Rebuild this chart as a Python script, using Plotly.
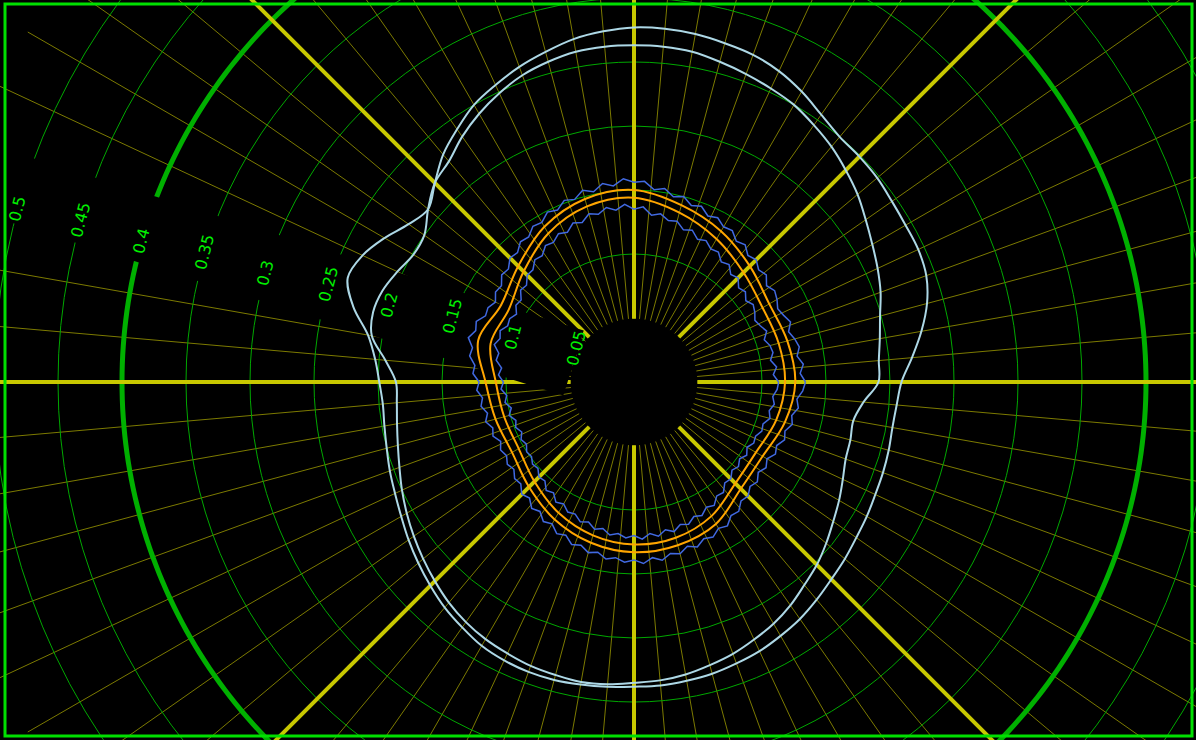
import plotly.graph_objects as go

# ---------------------------------------------------------------- data
# Angles in degrees, counter-clockwise from east.
theta_15 = list(range(0, 360, 15))
theta_5 = list(range(0, 360, 5))
theta_3 = list(range(0, 360, 3))

# light-blue envelopes, one sample every 5 degrees
env_outer = [0.209, 0.218, 0.228, 0.237, 0.243, 0.245, 0.245, 0.246, 0.248, 0.249, 0.250, 0.255,
             0.262, 0.268, 0.272, 0.274, 0.276, 0.277, 0.277, 0.275, 0.272, 0.267, 0.262, 0.256,
             0.250, 0.241, 0.232, 0.220, 0.210, 0.215, 0.225, 0.234, 0.238, 0.227, 0.211, 0.203,
             0.199, 0.197, 0.198, 0.200, 0.203, 0.206, 0.210, 0.215, 0.220, 0.225, 0.230, 0.234,
             0.238, 0.240, 0.241, 0.241, 0.240, 0.239, 0.238, 0.238, 0.237, 0.236, 0.234, 0.232,
             0.229, 0.226, 0.222, 0.218, 0.215, 0.212, 0.210, 0.208, 0.207, 0.206, 0.205, 0.206]
env_inner = [0.191, 0.192, 0.195, 0.199, 0.205, 0.210, 0.215, 0.221, 0.228, 0.234, 0.240, 0.245,
             0.250, 0.253, 0.256, 0.259, 0.262, 0.263, 0.263, 0.263, 0.262, 0.259, 0.255, 0.249,
             0.242, 0.234, 0.225, 0.220, 0.210, 0.200, 0.199, 0.204, 0.209, 0.211, 0.208, 0.195,
             0.186, 0.186, 0.188, 0.191, 0.195, 0.200, 0.205, 0.210, 0.215, 0.220, 0.225, 0.229,
             0.232, 0.234, 0.236, 0.237, 0.238, 0.237, 0.235, 0.234, 0.232, 0.229, 0.226, 0.222,
             0.218, 0.213, 0.207, 0.202, 0.196, 0.190, 0.185, 0.180, 0.176, 0.175, 0.174, 0.180]

# smoothed (orange) traces, one sample every 15 degrees
smooth_outer = [0.126, 0.124, 0.122, 0.128, 0.136, 0.143, 0.150, 0.148, 0.140, 0.128, 0.120, 0.126,
                0.116, 0.112, 0.110, 0.116, 0.124, 0.130, 0.133, 0.132, 0.128, 0.118, 0.116, 0.122]
smooth_inner = [0.118, 0.117, 0.116, 0.121, 0.129, 0.137, 0.144, 0.142, 0.134, 0.122, 0.113, 0.116,
                0.108, 0.105, 0.104, 0.110, 0.118, 0.124, 0.127, 0.126, 0.121, 0.112, 0.110, 0.115]

# raw (blue) traces, one sample every 3 degrees
raw_outer = [0.134, 0.130, 0.133, 0.129, 0.132, 0.130, 0.127, 0.131, 0.128, 0.126,
             0.129, 0.131, 0.128, 0.133, 0.131, 0.135, 0.133, 0.138, 0.136, 0.141,
             0.140, 0.144, 0.142, 0.147, 0.145, 0.150, 0.148, 0.153, 0.151, 0.157,
             0.156, 0.159, 0.154, 0.157, 0.152, 0.155, 0.150, 0.152, 0.147, 0.149,
             0.144, 0.145, 0.140, 0.141, 0.136, 0.137, 0.132, 0.133, 0.128, 0.129,
             0.125, 0.128, 0.127, 0.132, 0.130, 0.134, 0.129, 0.130, 0.125, 0.126,
             0.121, 0.123, 0.119, 0.121, 0.117, 0.120, 0.116, 0.118, 0.114, 0.117,
             0.115, 0.118, 0.116, 0.120, 0.119, 0.124, 0.122, 0.127, 0.125, 0.130,
             0.128, 0.133, 0.131, 0.136, 0.134, 0.138, 0.136, 0.140, 0.138, 0.141,
             0.139, 0.142, 0.138, 0.141, 0.137, 0.139, 0.135, 0.138, 0.134, 0.136,
             0.132, 0.134, 0.129, 0.130, 0.125, 0.126, 0.122, 0.124, 0.120, 0.123,
             0.120, 0.124, 0.122, 0.126, 0.124, 0.128, 0.126, 0.130, 0.128, 0.132]
raw_inner = [0.113, 0.109, 0.112, 0.108, 0.111, 0.110, 0.107, 0.111, 0.108, 0.106,
             0.109, 0.111, 0.108, 0.112, 0.110, 0.115, 0.113, 0.118, 0.116, 0.121,
             0.120, 0.124, 0.122, 0.127, 0.125, 0.130, 0.129, 0.133, 0.131, 0.137,
             0.135, 0.139, 0.135, 0.138, 0.134, 0.136, 0.131, 0.133, 0.128, 0.130,
             0.126, 0.127, 0.122, 0.123, 0.118, 0.118, 0.113, 0.114, 0.109, 0.110,
             0.106, 0.109, 0.108, 0.112, 0.110, 0.113, 0.108, 0.109, 0.104, 0.106,
             0.102, 0.104, 0.100, 0.102, 0.098, 0.101, 0.097, 0.099, 0.096, 0.099,
             0.097, 0.100, 0.099, 0.102, 0.101, 0.105, 0.104, 0.109, 0.107, 0.112,
             0.110, 0.114, 0.113, 0.117, 0.115, 0.119, 0.117, 0.121, 0.119, 0.122,
             0.120, 0.123, 0.119, 0.122, 0.118, 0.121, 0.117, 0.119, 0.115, 0.117,
             0.113, 0.115, 0.110, 0.111, 0.106, 0.107, 0.103, 0.105, 0.102, 0.105,
             0.102, 0.105, 0.104, 0.107, 0.106, 0.110, 0.108, 0.111, 0.109, 0.112]

# radial ticks
grid_r = [0.05, 0.10, 0.15, 0.20, 0.25, 0.30, 0.35, 0.40, 0.45, 0.50]
label_r = grid_r
label_text = ["0.05", "0.1", "0.15", "0.2", "0.25", "0.3", "0.35", "0.4", "0.45", "0.5"]
ring_r = 0.4
label_ray = 162.6      # direction along which the tick labels run

# ---------------------------------------------------------------- geometry
FIG = 1400                  # square canvas, the window shows a part of it
POLE_X, POLE_Y = 634, 382   # pole position inside the window
PX_PER_UNIT = 1280
R_MAX = FIG / 2 / PX_PER_UNIT
R_MIN = 0.0495
HOLE = R_MIN / R_MAX
SHIFT_X = POLE_X - FIG // 2
SHIFT_Y = POLE_Y - FIG // 2
VIEW_W, VIEW_H = 1196, 740

BLACK = "#000000"
GRID_GREEN = "#00a800"
SPOKE_OLIVE = "#7c7a00"
SPOKE_YELLOW = "#c8c800"
RING_GREEN = "#00b000"
LABEL_GREEN = "#00f000"


def closed(theta, r):
    return list(theta) + [theta[0]], list(r) + [r[0]]


fig = go.Figure()

# thick reference ring on the lower subplot
ring_theta = list(range(0, 361, 1))
fig.add_trace(go.Scatterpolar(
    r=[ring_r] * len(ring_theta), theta=ring_theta, mode="lines",
    line=dict(color=RING_GREEN, width=5), hoverinfo="skip", subplot="polar"))

# dark strip behind the radial tick labels
fig.add_trace(go.Scatterpolar(
    r=[R_MIN, R_MAX], theta=[label_ray, label_ray], mode="lines",
    line=dict(color=BLACK, width=68), hoverinfo="skip", subplot="polar2"))

series = [
    (theta_5, env_outer, "#add8e6", 2, "spline"),
    (theta_5, env_inner, "#add8e6", 2, "spline"),
    (theta_3, raw_outer, "#4169e1", 1.5, "linear"),
    (theta_3, raw_inner, "#4169e1", 1.5, "linear"),
    (theta_15, smooth_outer, "#ffa500", 2, "spline"),
    (theta_15, smooth_inner, "#ffa500", 2, "spline"),
]
for th, rr, col, w, shape in series:
    t, r = closed(th, rr)
    fig.add_trace(go.Scatterpolar(
        r=r, theta=t, mode="lines", line=dict(color=col, width=w, shape=shape),
        hoverinfo="skip", subplot="polar2"))

common = dict(domain=dict(x=[0, 1], y=[0, 1]), hole=HOLE)

fig.update_layout(
    width=FIG, height=FIG,
    margin=dict(l=0, r=0, t=0, b=0),
    paper_bgcolor=BLACK,
    showlegend=False,
    polar=dict(
        **common,
        bgcolor=BLACK,
        radialaxis=dict(range=[R_MIN, R_MAX], tickmode="array", tickvals=grid_r,
                        showticklabels=False, ticks="", showline=False,
                        gridcolor=GRID_GREEN, gridwidth=1),
        angularaxis=dict(tickmode="linear", tick0=0, dtick=5, rotation=0,
                         direction="counterclockwise", showticklabels=False,
                         ticks="", showline=False, gridcolor=SPOKE_OLIVE, gridwidth=1),
    ),
    polar2=dict(
        **common,
        bgcolor="rgba(0,0,0,0)",
        radialaxis=dict(range=[R_MIN, R_MAX], tickmode="array", tickvals=label_r,
                        ticktext=label_text, showgrid=False, ticks="",
                        showline=False, angle=label_ray + 2.9, tickangle=90,
                        layer="above traces",
                        tickfont=dict(family="DejaVu Sans", size=16, color=LABEL_GREEN)),
        angularaxis=dict(tickmode="linear", tick0=0, dtick=45, rotation=0,
                         direction="counterclockwise", showticklabels=False,
                         ticks="", showline=False, gridcolor=SPOKE_YELLOW, gridwidth=4),
    ),
)

# frame around the visible window
fx0 = (5 - SHIFT_X) / FIG
fx1 = (VIEW_W - 4 - SHIFT_X) / FIG
fy0 = 1 - (VIEW_H - 4 - SHIFT_Y) / FIG
fy1 = 1 - (4 - SHIFT_Y) / FIG
fig.add_shape(type="rect", xref="paper", yref="paper", x0=fx0, x1=fx1, y0=fy0, y1=fy1,
              line=dict(color="#00e000", width=3), fillcolor="rgba(0,0,0,0)")

post = """
var gd = document.getElementById('{plot_id}');
document.documentElement.style.overflow = 'hidden';
document.body.style.margin = '0';
document.body.style.overflow = 'hidden';
document.body.style.background = '#000';
gd.style.position = 'absolute';
gd.style.left = '%dpx';
gd.style.top = '%dpx';
""" % (SHIFT_X, SHIFT_Y)

fig.write_html("out.html", config={"displayModeBar": False}, post_script=post)
